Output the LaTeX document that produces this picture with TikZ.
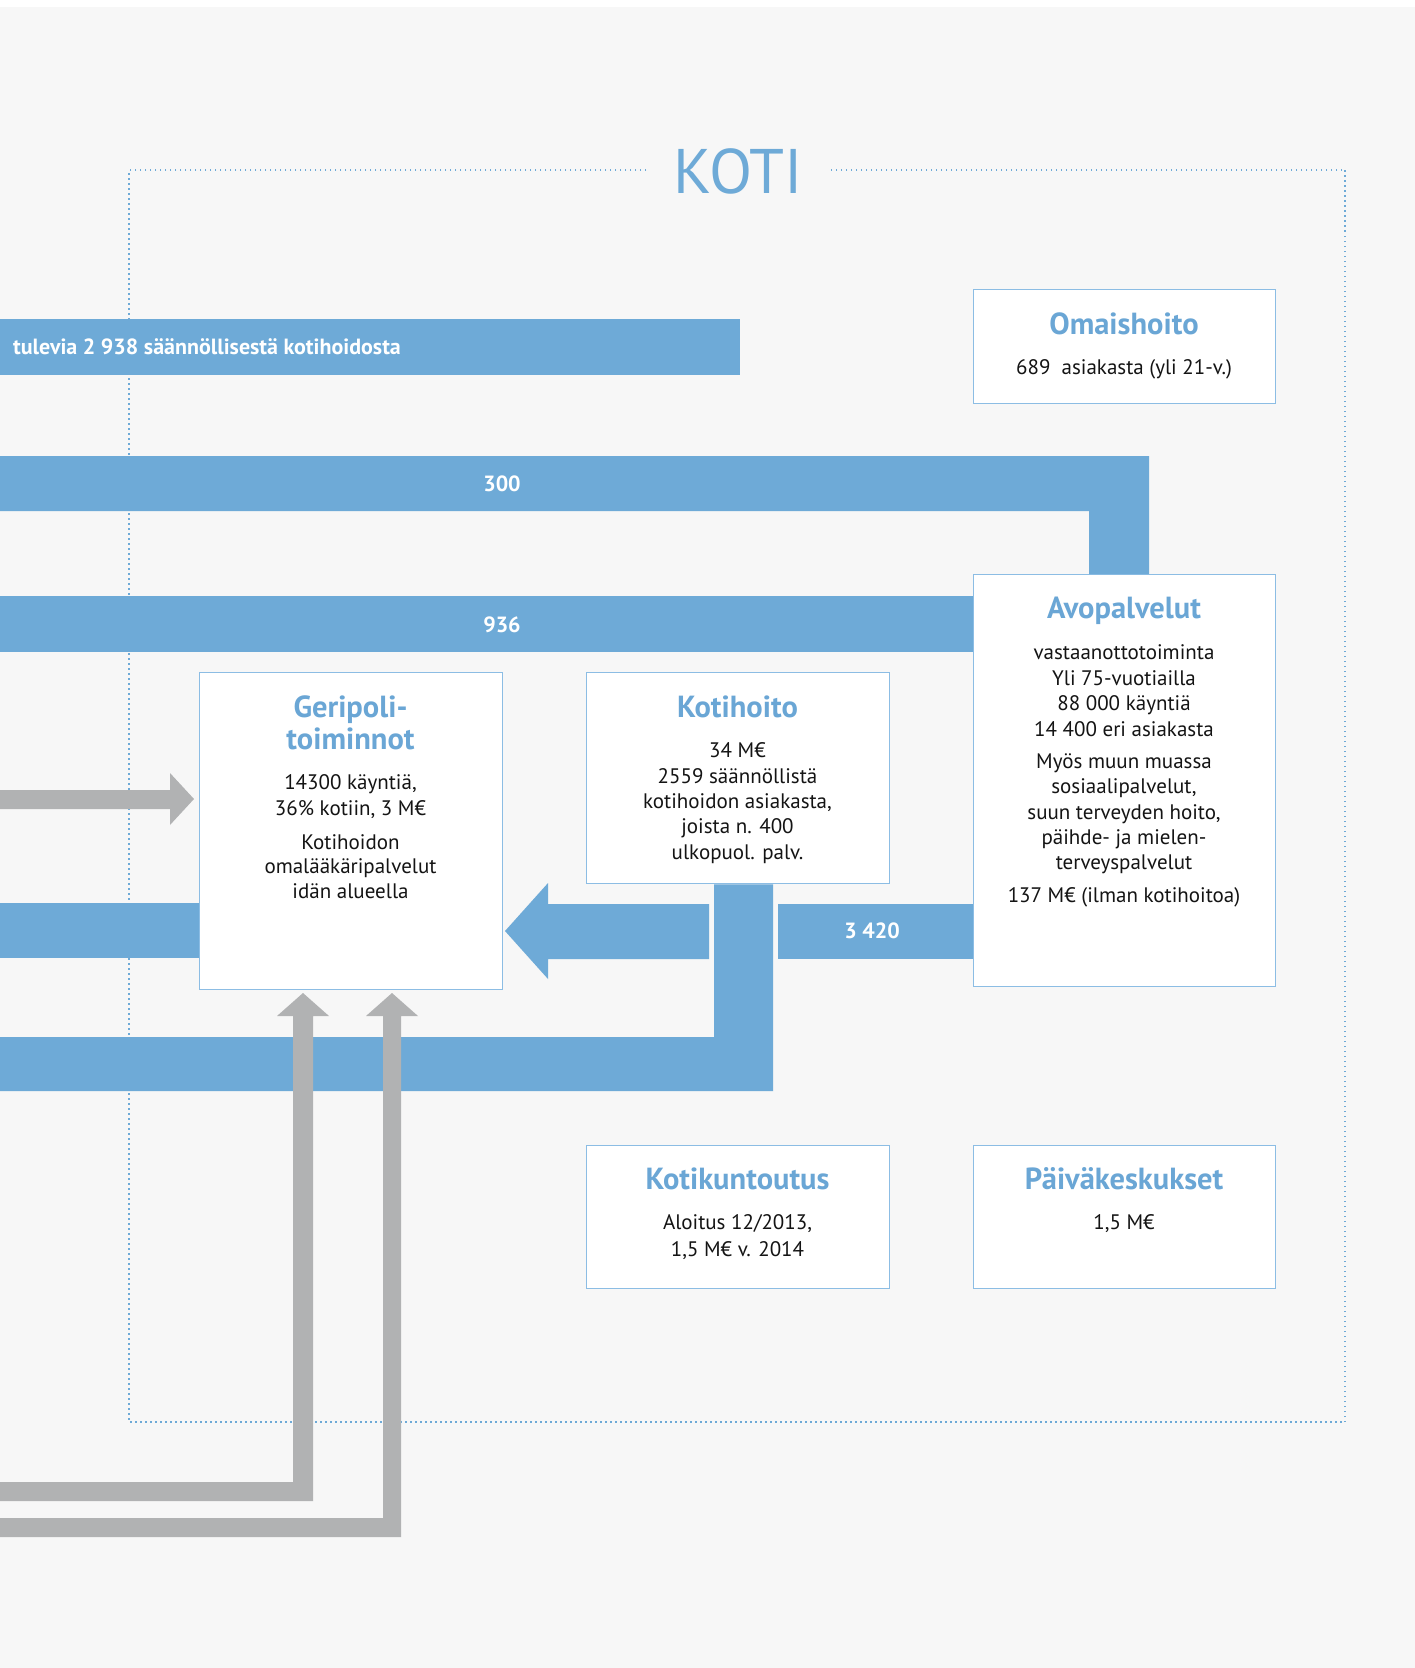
\documentclass[tikz,border=0pt]{standalone}
\usepackage{fontspec}
\setmainfont{PT Sans}
\definecolor{bg}{HTML}{F7F7F7}
\definecolor{barblue}{HTML}{6EAAD7}
\definecolor{boxline}{HTML}{8CBDE4}
\definecolor{titleblue}{HTML}{6AA6D5}
\definecolor{arrgray}{HTML}{B1B2B3}
\definecolor{txt}{HTML}{141414}
\tikzset{
 boxnode/.style={draw=boxline, line width=1.3pt, fill=white, anchor=north west, inner sep=0pt},
 ttl/.style={font=\fontsize{30.5}{32}\selectfont\bfseries, text=titleblue, anchor=base, inner sep=0pt},
 bdy/.style={font=\fontsize{21}{24}\selectfont, text=txt, anchor=base, inner sep=0pt},
 barlbl/.style={font=\fontsize{22}{24}\selectfont\bfseries, text=white, anchor=base, inner sep=0pt},
 bluebar/.style={fill=barblue},
 graybar/.style={fill=arrgray},
 framedots/.style={draw=barblue, line width=1.5pt, dash pattern=on 1.5pt off 3.5pt}
}
\begin{document}
\begin{tikzpicture}[x=1pt,y=-1pt]
\useasboundingbox (0,0) rectangle (1415,1668);
\fill[white] (0,0) rectangle (1415,7);
\fill[bg] (0,7) rectangle (1415,1668);

% frame
\coordinate (fTL) at (129,170);
\coordinate (fTR) at (1345,170);
\coordinate (fBL) at (129,1422);
\coordinate (fBR) at (1345,1422);
\coordinate (gapL) at (646,170);
\coordinate (gapR) at (827,170);
\draw[framedots] (gapL) -- (fTL) -- (fBL) -- (fBR) -- (fTR) -- (gapR);
\node[font=\fontsize{63}{66}\selectfont, text=barblue, anchor=base, inner sep=0pt] (koti) at (738,193) {KOTI};

% boxes
\node[boxnode, minimum width=302pt, minimum height=114pt] (omai) at (973,289) {};
\node[boxnode, minimum width=302pt, minimum height=412pt] (avo) at (973,574) {};
\node[boxnode, minimum width=303pt, minimum height=317pt] (gerip) at (199,672) {};
\node[boxnode, minimum width=303pt, minimum height=211pt] (kotih) at (586,672) {};
\node[boxnode, minimum width=303pt, minimum height=143pt] (kk) at (586,1145) {};
\node[boxnode, minimum width=302pt, minimum height=143pt] (paiva) at (973,1145) {};

\coordinate (avoTop) at (avo.north);
\coordinate (avoW) at (avo.west);
\coordinate (kotiBot) at (kotih.south);
\coordinate (geriE) at (gerip.east);
\coordinate (geriW) at (gerip.west);

% blue bars
\fill[bluebar] (0,319) rectangle (740,375);
\fill[bluebar] (0,456) -- (1149,456) -- (1149,0 |- avoTop) -- (1089,0 |- avoTop) -- (1089,511) -- (0,511) -- cycle;
\fill[bluebar] (0,596) rectangle (avoW |- 0,652);
\fill[bluebar] (714,0 |- kotiBot) -- (773,0 |- kotiBot) -- (773,1091) -- (0,1091) -- (0,1037) -- (714,1037) -- cycle;
\fill[bluebar] (709,904) -- (548,904) -- (548,883) -- (505,931) -- (548,979) -- (548,959) -- (709,959) -- cycle;
\fill[bluebar] (778,904) rectangle (avoW |- 0,959);
\fill[bluebar] (0,903) rectangle (geriW |- 0,958);

% gray arrows
\fill[graybar] (0,790) -- (170,790) -- (170,773) -- (194,799) -- (170,825) -- (170,809) -- (0,809) -- cycle;
\fill[graybar] (0,1482) -- (293,1482) -- (293,1016) -- (277,1016) -- (303,993) -- (329,1016) -- (313,1016) -- (313,1501) -- (0,1501) -- cycle;
\fill[graybar] (0,1518) -- (383,1518) -- (383,1016) -- (366,1016) -- (392,993) -- (418,1016) -- (401,1016) -- (401,1537) -- (0,1537) -- cycle;

% bar labels
\node[barlbl, anchor=base west] (tulevia) at (13,354) {tulevia 2 938 säännöllisestä kotihoidosta};
\node[barlbl] (l300) at (502,491) {300};
\node[barlbl] (l936) at (502,632) {936};
\node[barlbl] (l3420) at (872,938) {3 420};

% Omaishoito
\node[ttl] (omaiT) at (1124,334) {Omaishoito};
\node[bdy] (omai1) at (1124,374) {689\ \ asiakasta (yli 21-v.)};

% Avopalvelut
\node[ttl] (avoT) at (1124,618) {Avopalvelut};
\node[bdy] (avo1) at (1124,659) {vastaanottotoiminta};
\node[bdy] (avo2) at (1124,685) {Yli 75-vuotiailla};
\node[bdy] (avo3) at (1124,710) {88 000 käyntiä};
\node[bdy] (avo4) at (1124,736) {14 400 eri asiakasta};
\node[bdy] (avo5) at (1124,768) {Myös muun muassa};
\node[bdy] (avo6) at (1124,793) {sosiaalipalvelut,};
\node[bdy] (avo7) at (1124,819) {suun terveyden hoito,};
\node[bdy] (avo8) at (1124,844) {päihde- ja mielen-};
\node[bdy] (avo9) at (1124,869) {terveyspalvelut};
\node[bdy] (avo10) at (1124,902) {137 M€ (ilman kotihoitoa)};

% Geripoli
\node[ttl] (geriT1) at (350.5,717) {Geripoli-};
\node[ttl] (geriT2) at (350.5,749) {toiminnot};
\node[bdy] (geri1) at (350.5,789) {14300 käyntiä,};
\node[bdy] (geri2) at (350.5,815) {36\% kotiin, 3 M€};
\node[bdy] (geri3) at (350.5,849) {Kotihoidon};
\node[bdy] (geri4) at (350.5,873) {omalääkäripalvelut};
\node[bdy] (geri5) at (350.5,898) {idän alueella};

% Kotihoito
\node[ttl] (kotihT) at (737.5,717) {Kotihoito};
\node[bdy] (kotih1) at (737.5,757) {34 M€};
\node[bdy] (kotih2) at (737.5,783) {2559 säännöllistä};
\node[bdy] (kotih3) at (737.5,808) {kotihoidon asiakasta,};
\node[bdy] (kotih4) at (737.5,833) {joista n. 400};
\node[bdy] (kotih5) at (737.5,859) {ulkopuol. palv.};

% Kotikuntoutus
\node[ttl] (kkT) at (737.5,1189) {Kotikuntoutus};
\node[bdy] (kk1) at (737.5,1229) {Aloitus 12/2013,};
\node[bdy] (kk2) at (737.5,1256) {1,5 M€ v. 2014};

% Paivakeskukset
\node[ttl] (paivaT) at (1124,1189) {Päiväkeskukset};
\node[bdy] (paiva1) at (1124,1229) {1,5 M€};
\end{tikzpicture}
\end{document}
